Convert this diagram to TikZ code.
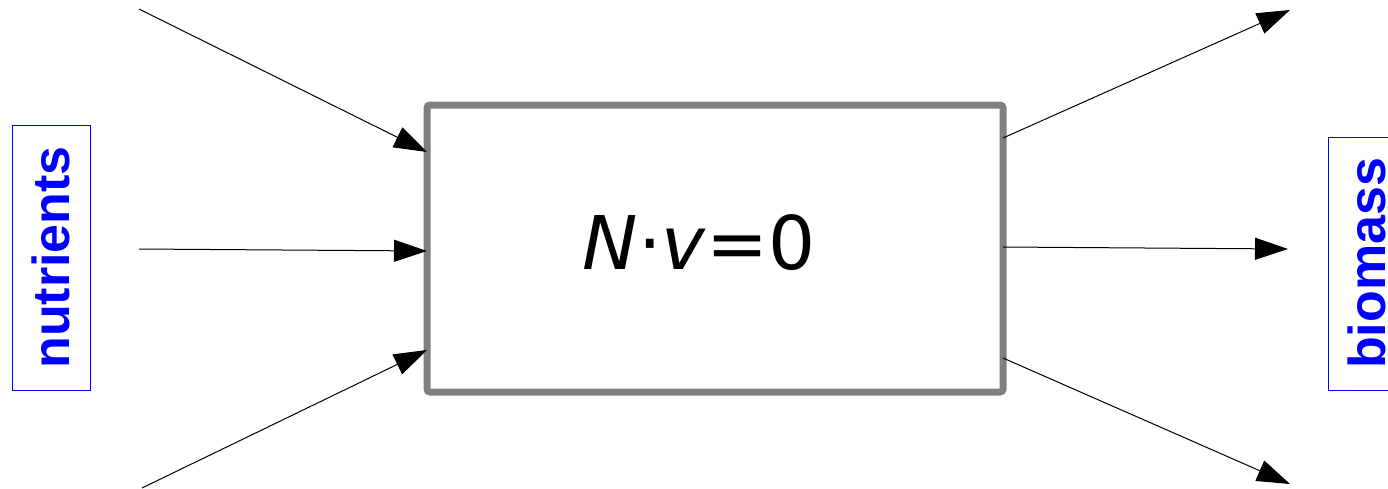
\documentclass[tikz,border=0pt]{standalone}
\usepackage{fontspec}
\usetikzlibrary{arrows.meta,calc}
\newfontfamily\eqfont{DejaVu Sans}
\newfontfamily\labfont{Liberation Sans}
\definecolor{boxgray}{RGB}{128,128,128}
\definecolor{labblue}{RGB}{0,0,255}
\tikzset{
  sysbox/.style={draw=boxgray, line width=3.5pt, rounded corners=1.5pt, outer sep=0pt,
    minimum width=288pt, minimum height=143.5pt, inner sep=0pt},
  flow/.style={draw=black, line width=0.5pt, -{Triangle[length=16.5pt,width=11pt]}},
  sidelabel/.style={draw=labblue, line width=0.5pt, text=labblue, rotate=90,
    font=\labfont\bfseries\fontsize{26pt}{30pt}\selectfont, inner sep=0pt,
    minimum height=39pt},
  eqtext/.style={font=\eqfont\fontsize{37pt}{44pt}\selectfont, inner sep=0pt}
}
\begin{document}
\begin{tikzpicture}[x=0.5pt,y=-0.5pt]
\useasboundingbox (0,0) rectangle (1388,488);
\node[sysbox] (box) at (715,248.5) {};
\node[eqtext] (eq) at (699,243) {\textit{N}·\textit{v}=0};
\node[sidelabel, minimum width=132.5pt] (nut) at (51,257.5) {nutrients};
\node[sidelabel, minimum width=126.5pt] (bio) at (1367,263.5) {biomass};
\coordinate (i1) at (139,9);
\coordinate (i2) at (139,249);
\coordinate (i3) at (142,488);
\coordinate (o1) at (1290,10);
\coordinate (o2) at (1288,249);
\coordinate (o3) at (1290,484);
\draw[flow] (i1) -- ($(box.west)+(0,-96.5)$);
\draw[flow] (i2) -- ($(box.west)+(0,2.5)$);
\draw[flow] (i3) -- ($(box.west)+(0,101.5)$);
\draw[flow] ($(box.east)+(0,-110.5)$) -- (o1);
\draw[flow] ($(box.east)+(0,-1.5)$) -- (o2);
\draw[flow] ($(box.east)+(0,109.5)$) -- (o3);
\end{tikzpicture}
\end{document}
